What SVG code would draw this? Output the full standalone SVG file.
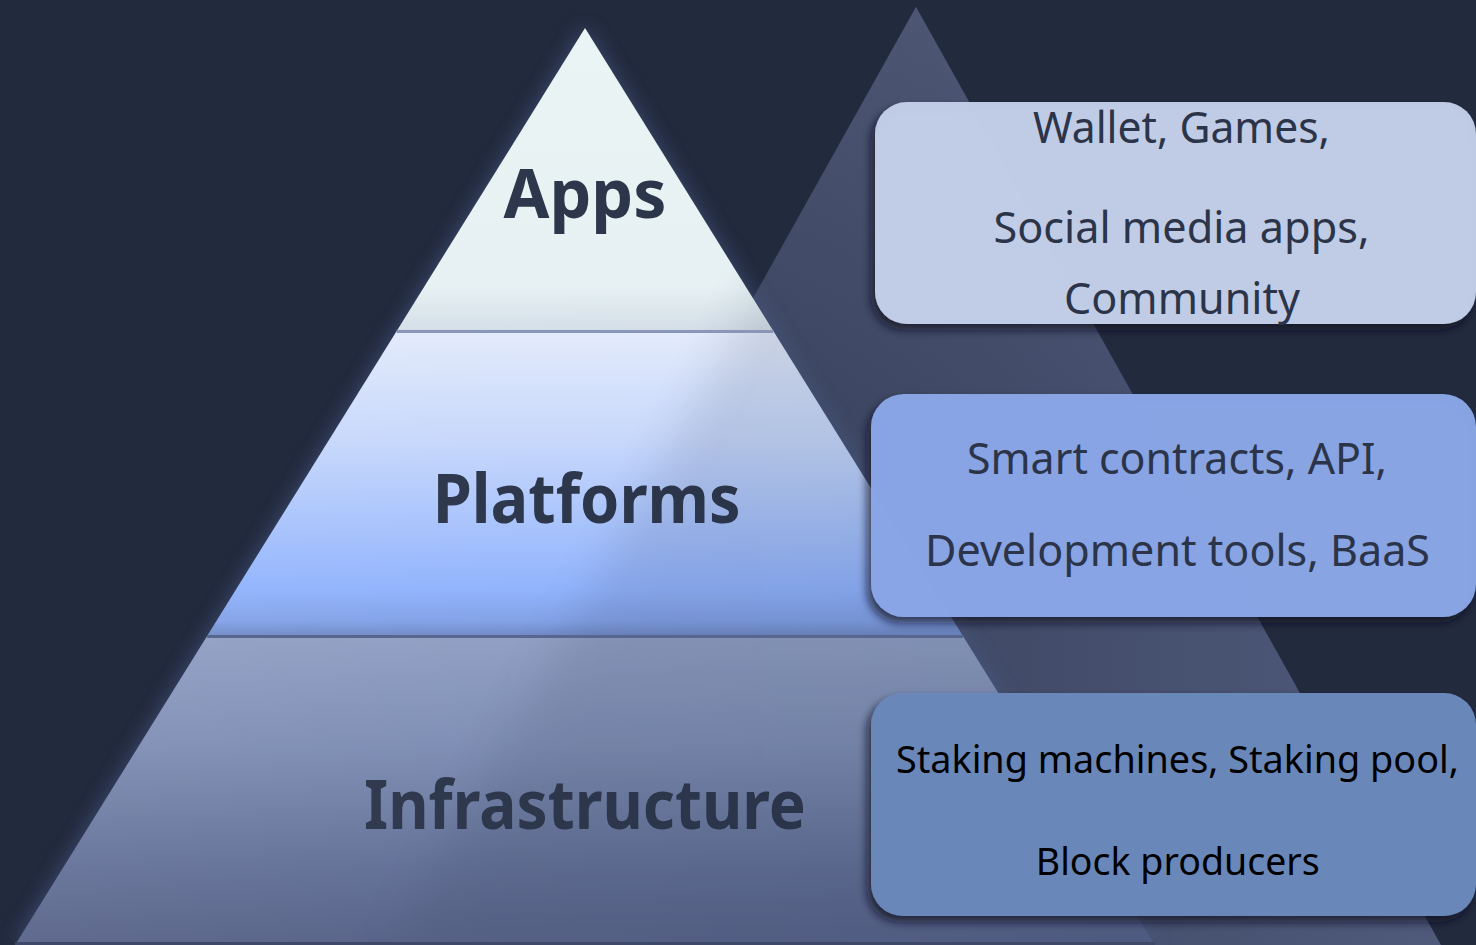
<svg xmlns="http://www.w3.org/2000/svg" width="1476" height="945" viewBox="0 0 1476 945">
  <style>
    .lbl { font-family: "Noto Sans", "Open Sans", "Liberation Sans", sans-serif; font-weight: 700; font-size: 68px; fill: #273146; text-anchor: middle; }
    .txt { font-family: "Noto Sans", "Open Sans", "Liberation Sans", sans-serif; font-size: 43px; fill: #2b3448; text-anchor: middle; }
    .txt3 { font-family: "Noto Sans", "Open Sans", "Liberation Sans", sans-serif; font-size: 38px; fill: #000000; text-anchor: middle; }
    .box { filter: url(#shadow); }
  </style>
  <defs>
    <filter id="shadow" x="-10%" y="-20%" width="120%" height="140%">
      <feDropShadow dx="-4" dy="6" stdDeviation="5" flood-color="#0e1220" flood-opacity="0.75"/>
    </filter>
    <filter id="glow" x="-20%" y="-20%" width="140%" height="140%">
      <feGaussianBlur stdDeviation="10"/>
    </filter>
    <filter id="soft" x="-20%" y="-20%" width="140%" height="140%">
      <feGaussianBlur stdDeviation="22"/>
    </filter>
    <linearGradient id="gBack" gradientUnits="userSpaceOnUse" x1="391" y1="0" x2="1441" y2="0">
      <stop offset="0" stop-color="#333c55"/>
      <stop offset="0.5" stop-color="#3f4965"/>
      <stop offset="1" stop-color="#4f5a7b"/>
    </linearGradient>
    <linearGradient id="gBackV" gradientUnits="userSpaceOnUse" x1="0" y1="7" x2="0" y2="400">
      <stop offset="0" stop-color="#5a6482" stop-opacity="0.5"/>
      <stop offset="1" stop-color="#5a6482" stop-opacity="0"/>
    </linearGradient>
    <linearGradient id="gApps" gradientUnits="userSpaceOnUse" x1="0" y1="28" x2="0" y2="331">
      <stop offset="0" stop-color="#e9f4f4"/>
      <stop offset="0.85" stop-color="#e6f1f3"/>
      <stop offset="1" stop-color="#d3dde8"/>
    </linearGradient>
    <linearGradient id="gPlat" gradientUnits="userSpaceOnUse" x1="0" y1="333" x2="0" y2="636">
      <stop offset="0" stop-color="#e2eafb"/>
      <stop offset="0.35" stop-color="#c6d7fb"/>
      <stop offset="0.85" stop-color="#8eb1fd"/>
      <stop offset="0.95" stop-color="#7f9fe6"/>
      <stop offset="1" stop-color="#6d87c4"/>
    </linearGradient>
    <linearGradient id="gInfra" gradientUnits="userSpaceOnUse" x1="0" y1="638" x2="0" y2="945">
      <stop offset="0" stop-color="#8d9dc2"/>
      <stop offset="0.35" stop-color="#7b8bb2"/>
      <stop offset="0.75" stop-color="#5f6c94"/>
      <stop offset="1" stop-color="#525d84"/>
    </linearGradient>
    <linearGradient id="gSideLight" gradientUnits="userSpaceOnUse" x1="15" y1="0" x2="1155" y2="0">
      <stop offset="0" stop-color="#ffffff" stop-opacity="0.08"/>
      <stop offset="0.45" stop-color="#ffffff" stop-opacity="0.03"/>
      <stop offset="1" stop-color="#ffffff" stop-opacity="0"/>
    </linearGradient>
    <clipPath id="clipFront">
      <polygon points="585,28 1155,945 15,945"/>
    </clipPath>
  </defs>

  <rect id="background" x="0" y="0" width="1476" height="945" fill="#222a3e"/>

  <g id="back-triangle">
    <polygon points="916,7 1441,945 391,945" fill="url(#gBack)"/>
    <polygon points="916,7 1441,945 391,945" fill="url(#gBackV)"/>
  </g>

  <g id="pyramid">
    <polygon points="585,28 1155,945 15,945" fill="#4a5a86" opacity="0.7" filter="url(#glow)"/>
    <g id="layer-apps">
      <polygon points="585,28 773.3,331 396.7,331" fill="url(#gApps)"/>
      <text class="lbl" x="585" y="218" textLength="163" lengthAdjust="spacingAndGlyphs">Apps</text>
    </g>
    <g id="layer-platforms">
      <polygon points="396.7,331 773.3,331 962.9,636 207.1,636" fill="url(#gPlat)"/>
      <text class="lbl" x="586.7" y="523" textLength="308" lengthAdjust="spacingAndGlyphs">Platforms</text>
    </g>
    <g id="layer-infrastructure">
      <polygon points="207.1,636 962.9,636 1155,945 15,945" fill="url(#gInfra)"/>
      <text class="lbl" x="585" y="829" textLength="442" lengthAdjust="spacingAndGlyphs">Infrastructure</text>
    </g>
    <g clip-path="url(#clipFront)">
      <polygon points="916,7 1441,945 391,945" fill="#2c3650" opacity="0.13" filter="url(#soft)"/>
      <polygon points="585,28 1155,945 15,945" fill="url(#gSideLight)"/>
    </g>
    <line x1="396.7" y1="331.5" x2="773.3" y2="331.5" stroke="#8996b6" stroke-width="3"/>
    <line x1="207.1" y1="636.5" x2="962.9" y2="636.5" stroke="#56668f" stroke-width="3"/>
    <line x1="15" y1="943.5" x2="1155" y2="943.5" stroke="#3f4868" stroke-width="3"/>
  </g>

  <g id="connectors"/>

  <g id="box-apps">
    <rect class="box" x="875" y="102" width="601" height="222" rx="32" fill="#c5d0ea" fill-opacity="0.96"/>
    <text class="txt" x="1181.5" y="143" textLength="297" lengthAdjust="spacingAndGlyphs">Wallet, Games,</text>
    <text class="txt" x="1181.5" y="243" textLength="376" lengthAdjust="spacingAndGlyphs">Social media apps,</text>
    <text class="txt" x="1182" y="314" textLength="236" lengthAdjust="spacingAndGlyphs">Community</text>
  </g>

  <g id="box-platforms">
    <rect class="box" x="871" y="394" width="605" height="223" rx="33" fill="#8aa8e8" fill-opacity="0.96"/>
    <text class="txt" x="1177" y="474" textLength="420" lengthAdjust="spacingAndGlyphs">Smart contracts, API,</text>
    <text class="txt" x="1177.5" y="566" textLength="505" lengthAdjust="spacingAndGlyphs">Development tools, BaaS</text>
  </g>

  <g id="box-infrastructure">
    <rect class="box" x="871" y="693" width="605" height="223" rx="32" fill="#6a87b9"/>
    <text class="txt3" x="1177.4" y="773" textLength="563" lengthAdjust="spacingAndGlyphs">Staking machines, Staking pool,</text>
    <text class="txt3" x="1177.8" y="875" textLength="284" lengthAdjust="spacingAndGlyphs">Block producers</text>
  </g>
</svg>
